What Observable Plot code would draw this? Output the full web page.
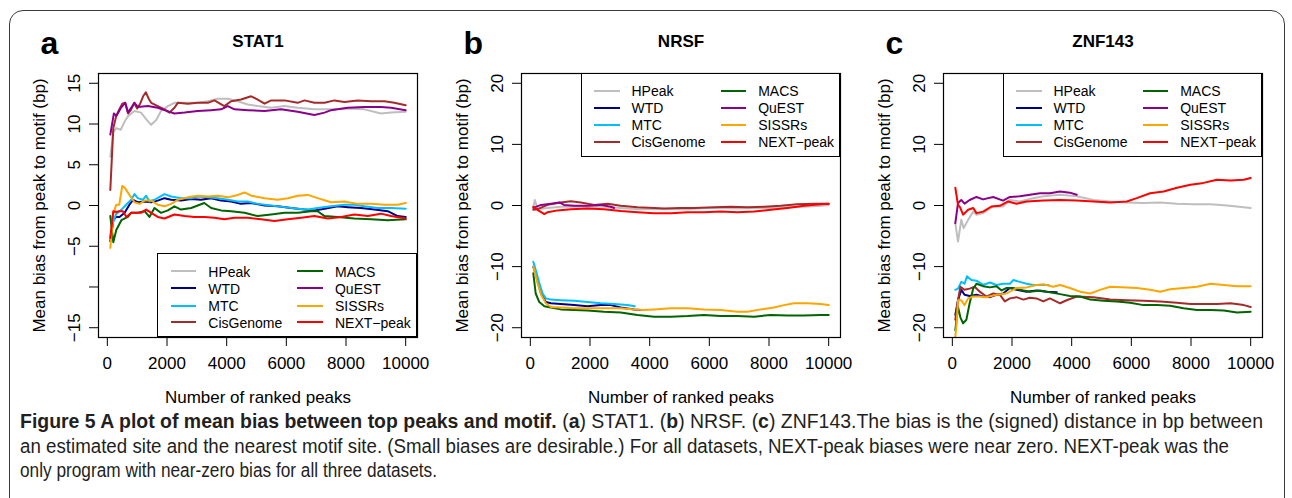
<!DOCTYPE html>
<html><head><meta charset="utf-8">
<script src="https://cdn.jsdelivr.net/npm/d3@7"></script>
<script src="https://cdn.jsdelivr.net/npm/@observablehq/plot@0.6"></script>
<style>
html,body{margin:0;padding:0;background:#fff;}
body{width:1292px;height:498px;overflow:hidden;position:relative;font-family:"Liberation Sans",Arial,Helvetica,sans-serif;}
#border{position:absolute;left:9px;top:10px;width:1276px;height:560px;border:1.5px solid #3a3a3a;border-radius:14px;box-sizing:border-box;}
.panel{position:absolute;top:0;}
.legend{position:absolute;background:#fff;border:1px solid #000;box-sizing:border-box;width:259.5px;height:83.5px;font-size:14px;color:#000;}
.legend .sw{position:absolute;height:2px;width:25.5px;}
.legend .lb{position:absolute;line-height:16px;white-space:nowrap;}
#caption{position:absolute;left:20px;top:409px;font-size:20px;line-height:24.5px;color:#231f20;}
#caption div{white-space:nowrap;transform-origin:0 50%;width:max-content;}
</style></head><body>
<div id="border"></div>
<div id="root"></div>
<div id="caption">
<div data-w="1243"><b>Figure 5 A plot of mean bias between top peaks and motif.</b> (<b>a</b>) STAT1. (<b>b</b>) NRSF. (<b>c</b>) ZNF143.The bias is the (signed) distance in bp between</div>
<div data-w="1209">an estimated site and the nearest motif site. (Small biases are desirable.) For all datasets, NEXT-peak biases were near zero. NEXT-peak was the</div>
<div data-w="417">only program with near-zero bias for all three datasets.</div>
</div>
<script>
// ---------- data ----------
const methods = ["HPeak","WTD","MTC","CisGenome","MACS","QuEST","SISSRs","NEXT-peak"];
const legendLabels = ["HPeak","WTD","MTC","CisGenome","MACS","QuEST","SISSRs","NEXT\u2212peak"];
const colors = ["#bebebe","#00008b","#00bfff","#a52a2a","#006400","#8b008b","#ffa500","#ff0000"];
const xTicks = [0,2000,4000,6000,8000,10000];
const yTicksA = [-15,-10,-5,0,5,10,15];
const yTicksBC = [-20,-10,0,10,20];
const panelTitles = ["STAT1","NRSF","ZNF143"];
const panelLetters = ["a","b","c"];
const xLabel = "Number of ranked peaks";
const yLabel = "Mean bias from peak to motif (bp)";

// STAT1 (panel a)
const STAT1_HPeak = [[100,6.0],[200,9.0],[300,9.5],[450,9.3],[580,10.3],[700,11.0],[910,11.6],[1130,11.4],[1300,10.6],[1470,9.9],[1640,10.5],[1800,11.6],[2030,12.2],[2250,12.6],[2700,12.6],[3030,12.6],[3370,12.8],[3700,13.1],[4040,13.1],[4370,12.8],[4710,12.4],[5040,12.2],[5490,12.0],[5940,12.2],[6380,12.0],[6940,11.8],[7500,11.8],[8060,11.9],[8620,11.8],[9170,11.3],[9510,11.4],[10000,11.5]];
const STAT1_WTD = [[100,-4.4],[200,-1.8],[300,-1.4],[410,-1.4],[580,-0.9],[740,0.1],[860,0.7],[1020,0.4],[1250,0.5],[1470,0.4],[1690,0.6],[1915,0.9],[2140,0.7],[2470,0.6],[2810,0.8],[3140,0.7],[3480,0.9],[3810,0.6],[4150,0.5],[4480,0.2],[4820,0.3],[5270,0.0],[5710,-0.1],[6160,-0.3],[6610,-0.5],[6940,-0.6],[7280,-0.4],[7720,-0.1],[8060,-0.2],[8500,-0.3],[8950,-0.5],[9400,-0.7],[9730,-1.3],[10000,-1.4]];
const STAT1_MTC = [[100,-3.8],[200,-2.0],[300,-1.0],[450,-0.6],[580,-0.1],[800,0.7],[910,1.4],[1020,0.9],[1190,0.7],[1300,1.2],[1410,0.5],[1580,0.7],[1915,1.4],[2140,1.1],[2470,0.9],[2810,0.9],[3030,1.1],[3370,1.0],[3700,0.9],[4040,0.7],[4370,0.5],[4710,0.5],[5040,0.2],[5490,0.0],[5940,-0.2],[6380,-0.4],[6720,-0.5],[7050,-0.3],[7500,-0.1],[7950,0.1],[8280,0.1],[8620,-0.1],[9060,-0.3],[9510,-0.3],[10000,-0.4]];
const STAT1_CisGenome = [[100,1.9],[200,9.5],[300,11.0],[400,11.8],[500,12.5],[600,12.6],[700,11.3],[800,11.8],[900,12.6],[1000,11.9],[1100,12.5],[1200,13.4],[1290,13.9],[1400,13.0],[1470,12.6],[1690,12.2],[1915,11.8],[2080,11.4],[2250,12.0],[2360,12.6],[2700,12.5],[3030,12.6],[3370,12.6],[3590,12.9],[3920,12.2],[4150,12.8],[4480,13.0],[4820,13.4],[5040,13.0],[5270,12.5],[5490,12.9],[5940,12.9],[6380,12.6],[6610,12.9],[6940,12.6],[7280,12.6],[7610,12.9],[7950,12.7],[8390,12.9],[8840,12.8],[9290,12.8],[9620,12.6],[10000,12.3]];
const STAT1_MACS = [[100,-1.3],[200,-4.5],[300,-3.0],[470,-1.8],[690,-1.4],[800,-0.9],[1020,-0.9],[1250,-0.7],[1410,-1.4],[1580,-0.3],[1800,-0.9],[2030,-0.6],[2250,-0.1],[2470,-0.5],[2810,-0.3],[3030,0.0],[3250,0.3],[3480,-0.3],[3810,-0.6],[4150,-0.7],[4600,-0.9],[5040,-1.3],[5490,-1.1],[5940,-0.9],[6380,-0.9],[6830,-0.7],[7050,-0.7],[7280,-1.3],[7720,-1.4],[8280,-1.6],[8840,-1.7],[9400,-1.8],[10000,-1.7]];
const STAT1_QuEST = [[100,8.7],[220,11.3],[300,11.0],[460,12.0],[600,12.6],[690,11.4],[800,12.0],[910,12.6],[1020,12.1],[1360,12.2],[1690,12.0],[1915,11.7],[2250,11.3],[2590,11.4],[3030,11.6],[3480,11.7],[3810,11.8],[4040,12.2],[4260,11.8],[4710,11.7],[5270,11.6],[5820,11.8],[6380,11.5],[6940,11.1],[7280,11.4],[7500,11.7],[8060,12.0],[8620,12.1],[9170,12.1],[9510,12.0],[10000,11.7]];
const STAT1_SISSRs = [[100,-5.2],[200,-1.0],[300,0.1],[400,0.1],[500,2.4],[580,2.2],[740,1.3],[910,0.4],[1080,0.2],[1250,0.6],[1470,0.6],[1690,0.1],[1915,-0.1],[2140,0.2],[2360,0.7],[2700,1.0],[3030,1.2],[3370,1.1],[3700,1.2],[4040,1.0],[4370,1.3],[4600,1.6],[4820,1.2],[5270,0.9],[5710,0.7],[6050,0.9],[6380,1.2],[6720,1.3],[7050,0.9],[7500,0.4],[7950,0.5],[8390,0.2],[8840,0.2],[9290,0.1],[9730,0.1],[10000,0.3]];
const STAT1_NEXTpeak = [[100,-4.0],[200,-0.7],[300,-0.8],[400,-0.7],[520,-0.7],[640,-1.4],[800,-0.9],[970,-0.9],[1130,-0.9],[1300,-0.5],[1470,-0.9],[1690,-1.4],[1915,-1.6],[2250,-1.1],[2590,-1.3],[2920,-1.4],[3250,-1.4],[3590,-1.5],[3920,-1.7],[4260,-1.5],[4710,-1.5],[5150,-1.7],[5600,-1.9],[6050,-1.7],[6500,-1.5],[6940,-1.3],[7390,-1.6],[7840,-1.4],[8280,-1.1],[8730,-1.3],[9170,-1.0],[9510,-1.3],[10000,-1.6]];

// NRSF (panel b)
const NRSF_HPeak = [[100,-0.3],[150,0.9],[250,-0.6],[580,-0.4],[1020,-0.2],[1470,-0.2],[1915,-0.2],[2470,-0.2],[3030,-0.4],[3590,-0.6],[4150,-0.6],[4710,-0.6],[5270,-0.6],[5820,-0.4],[6380,-0.4],[6940,-0.5],[7500,-0.4],[8060,-0.4],[8620,-0.3],[9170,-0.2],[9730,-0.05],[10000,0.1]];
const NRSF_WTD = [[100,-10.0],[240,-12.2],[360,-14.4],[520,-15.8],[690,-16.0],[1020,-16.1],[1470,-16.3],[1915,-16.5],[2360,-16.3],[2700,-16.3],[3030,-16.7],[3480,-17.0],[3700,-17.1]];
const NRSF_MTC = [[100,-9.2],[180,-10.5],[300,-12.7],[410,-14.4],[520,-15.2],[690,-15.4],[1020,-15.5],[1470,-15.6],[1915,-15.8],[2360,-16.0],[2810,-16.1],[3250,-16.3],[3500,-16.5]];
const NRSF_CisGenome = [[100,-0.7],[240,-0.6],[580,0.1],[1020,0.5],[1360,0.7],[1690,0.5],[2140,0.1],[2590,0.3],[3030,-0.05],[3590,-0.3],[4150,-0.4],[4480,-0.5],[5040,-0.4],[5490,-0.4],[6160,-0.3],[6720,-0.2],[7280,-0.3],[7840,-0.2],[8390,-0.05],[8950,0.2],[9510,0.3],[10000,0.3]];
const NRSF_MACS = [[100,-11.1],[180,-14.4],[300,-15.8],[470,-16.5],[690,-16.7],[1020,-17.0],[1470,-17.1],[1915,-17.2],[2470,-17.4],[3030,-17.5],[3590,-17.9],[4150,-18.2],[4710,-18.2],[5270,-18.1],[5820,-17.9],[6380,-18.1],[6940,-18.1],[7500,-18.2],[8060,-17.9],[8620,-18.0],[9170,-18.0],[9730,-17.9],[10000,-17.9]];
const NRSF_QuEST = [[100,-0.4],[360,0.1],[690,0.3],[970,0.5],[1130,0.1],[1470,-0.05],[1915,-0.05],[2360,0.1],[2700,-0.2],[2810,-0.4]];
const NRSF_SISSRs = [[100,-10.0],[240,-12.7],[360,-14.6],[520,-16.0],[690,-16.6],[1020,-16.7],[1470,-16.8],[1915,-16.8],[2470,-16.8],[3030,-16.8],[3480,-17.0],[3810,-17.1],[4150,-17.0],[4710,-16.8],[5270,-16.8],[5820,-17.0],[6380,-17.1],[6940,-17.4],[7280,-17.4],[7720,-17.0],[8170,-16.7],[8500,-16.3],[8840,-16.0],[9290,-16.0],[9730,-16.1],[10000,-16.3]];
const NRSF_NEXTpeak = [[100,-0.2],[240,-0.7],[470,-1.4],[580,-1.1],[910,-0.8],[1360,-0.6],[1915,-0.5],[2470,-0.6],[3030,-0.9],[3590,-1.1],[4150,-1.25],[4710,-1.25],[5270,-1.1],[5820,-1.1],[6380,-1.0],[6940,-1.1],[7500,-1.0],[8060,-0.7],[8620,-0.4],[9170,-0.05],[9730,0.2],[10000,0.3]];

// ZNF143 (panel c)
const ZNF143_HPeak = [[100,-2.9],[190,-5.9],[300,-2.35],[380,-3.7],[530,-2.35],[700,-1.0],[810,-1.5],[1030,-1.25],[1370,-0.16],[1700,-0.16],[1930,0.9],[2260,0.66],[2710,1.2],[3050,1.5],[3610,1.75],[4170,1.5],[4730,0.9],[5290,0.66],[5850,0.5],[6410,0.4],[6970,0.5],[7530,0.3],[8090,0.2],[8650,0.2],[9210,0.0],[9770,-0.3],[10000,-0.4]];
const ZNF143_WTD = [[100,-17.9],[190,-15.5],[300,-13.8],[410,-14.6],[580,-14.8],[810,-14.6],[1030,-14.9],[1260,-15.0],[1480,-14.6],[1700,-14.4],[1930,-13.5],[2150,-13.8],[2490,-14.1],[2820,-13.9],[3160,-14.1],[3500,-14.2]];
const ZNF143_MTC = [[100,-13.8],[190,-13.6],[300,-12.5],[410,-12.8],[490,-11.6],[640,-12.2],[810,-12.3],[1030,-13.0],[1260,-12.6],[1480,-13.0],[1700,-12.8],[1930,-12.8],[2040,-12.2],[2260,-12.5],[2490,-12.8],[2710,-13.0],[3050,-13.0],[3220,-13.0]];
const ZNF143_CisGenome = [[100,-18.7],[190,-15.5],[270,-13.3],[410,-13.8],[580,-13.6],[750,-13.3],[920,-14.1],[1140,-14.9],[1370,-14.4],[1590,-14.6],[1760,-15.7],[1930,-15.2],[2150,-15.0],[2380,-15.4],[2600,-15.1],[2820,-15.2],[3050,-15.7],[3270,-15.2],[3610,-16.0],[3830,-15.5],[4170,-14.9],[4730,-15.0],[5290,-15.4],[5850,-15.5],[6410,-15.6],[6970,-15.7],[7530,-15.9],[7980,-16.1],[8420,-16.1],[8870,-16.1],[9320,-16.0],[9770,-16.3],[10000,-16.6]];
const ZNF143_MACS = [[100,-20.4],[190,-16.6],[270,-18.3],[360,-19.3],[470,-18.7],[580,-16.0],[700,-13.6],[810,-12.8],[1030,-13.2],[1260,-13.4],[1480,-13.2],[1650,-13.9],[1820,-13.5],[2040,-13.5],[2260,-13.8],[2600,-14.1],[2940,-13.9],[3270,-14.2],[3610,-14.5],[3940,-14.8],[4280,-14.9],[4620,-15.4],[5060,-15.6],[5510,-15.7],[5960,-15.9],[6410,-16.3],[6860,-16.3],[7300,-16.4],[7750,-16.8],[8200,-17.1],[8650,-17.1],[9100,-17.2],[9540,-17.5],[10000,-17.4]];
const ZNF143_QuEST = [[100,-2.9],[190,0.4],[300,0.9],[410,0.3],[580,0.9],[810,1.4],[1030,1.0],[1370,1.4],[1700,0.8],[1930,1.4],[2260,1.5],[2600,1.75],[2940,2.0],[3270,2.0],[3610,2.3],[3940,2.1],[4170,1.75]];
const ZNF143_SISSRs = [[100,-21.5],[150,-19.0],[190,-15.5],[300,-15.5],[410,-16.3],[530,-15.2],[700,-14.9],[920,-14.9],[1140,-15.0],[1480,-14.6],[1820,-14.4],[2150,-13.5],[2490,-13.4],[2820,-13.0],[3050,-12.9],[3380,-13.3],[3610,-13.0],[3940,-13.5],[4280,-14.1],[4620,-14.4],[4950,-13.8],[5290,-13.3],[5850,-13.4],[6180,-13.5],[6630,-13.8],[6970,-14.1],[7300,-13.7],[7750,-13.5],[8200,-13.3],[8650,-12.8],[9100,-13.0],[9540,-13.2],[10000,-13.2]];
const ZNF143_NEXTpeak = [[100,2.9],[190,0.1],[260,-0.3],[360,-1.5],[530,-0.7],[700,-0.4],[810,-1.25],[1030,-1.0],[1310,-0.16],[1590,-0.05],[1870,0.66],[2150,0.3],[2490,0.66],[3050,0.8],[3610,0.9],[4170,0.8],[4730,0.66],[5290,0.5],[5850,0.66],[6180,1.2],[6630,2.0],[7080,2.3],[7530,2.9],[7980,3.4],[8420,3.7],[8870,4.2],[9320,4.1],[9770,4.2],[10000,4.5]];

const seriesA = [STAT1_HPeak,STAT1_WTD,STAT1_MTC,STAT1_CisGenome,STAT1_MACS,STAT1_QuEST,STAT1_SISSRs,STAT1_NEXTpeak];
const seriesB = [NRSF_HPeak,NRSF_WTD,NRSF_MTC,NRSF_CisGenome,NRSF_MACS,NRSF_QuEST,NRSF_SISSRs,NRSF_NEXTpeak];
const seriesC = [ZNF143_HPeak,ZNF143_WTD,ZNF143_MTC,ZNF143_CisGenome,ZNF143_MACS,ZNF143_QuEST,ZNF143_SISSRs,ZNF143_NEXTpeak];

// ---------- drawing ----------
const FONT = '"Liberation Sans", Arial, Helvetica, sans-serif';
const minus = d => d < 0 ? "\u2212" + Math.abs(d) : String(d);

function toRows(series) {
  const rows = [];
  series.forEach((s, i) => s.forEach(([x, y]) => rows.push({method: methods[i], x, y})));
  return rows;
}

function makePanel(k, series, yDomain, yTicks, yFmt, cfg) {
  const svg = Plot.plot({
    width: cfg.width, height: 420,
    marginTop: 73, marginBottom: 83, marginLeft: cfg.ml, marginRight: cfg.mr,
    style: {fontFamily: FONT, fontSize: "17px", color: "#000", background: "transparent", overflow: "visible"},
    x: {domain: [-296, 10396]},
    y: {domain: yDomain},
    color: {domain: methods, range: colors},
    marks: [
      Plot.axisX(xTicks, {tickSize: 9, tickPadding: 10, label: null, tickFormat: d => String(d), fontSize: 17, stroke: "#000"}),
      Plot.axisY(yTicks, {tickSize: 9, tickPadding: 10, tickRotate: -90, label: null, tickFormat: yFmt, fontSize: 17, stroke: "#000"}),
      Plot.line(toRows(series), {x: "x", y: "y", z: "method", stroke: "method", strokeWidth: 2, strokeLinejoin: "round"}),
      Plot.frame({stroke: "#000", strokeWidth: 1.2}),
      Plot.text([panelTitles[k]], {frameAnchor: "top", dy: -31.5, lineAnchor: "middle", fontWeight: "bold", fontSize: 17, fill: "#000"}),
      Plot.text([panelLetters[k]], {frameAnchor: "top-left", dx: -58, dy: -20, textAnchor: "start", lineAnchor: "bottom", fontWeight: "bold", fontSize: 32, fill: "#000"}),
      Plot.text([xLabel], {frameAnchor: "bottom", dy: 60, lineAnchor: "middle", fontSize: 17, fill: "#000"}),
      Plot.text([yLabel], {frameAnchor: "left", dx: -59, rotate: -90, textAnchor: "middle", lineAnchor: "middle", fontSize: 17, fill: "#000"})
    ]
  });
  const wrap = document.createElement("div");
  wrap.className = "panel";
  wrap.style.left = cfg.left + "px";
  wrap.appendChild(svg);
  document.getElementById("root").appendChild(wrap);

  // legend (key) inside the plot box
  const lg = document.createElement("div");
  lg.className = "legend";
  lg.style.left = cfg.lgLeft + "px";
  lg.style.top = cfg.lgTop + "px";
  const rowY = [17, 34.1, 51.2, 68];
  methods.forEach((m, i) => {
    const col = i < 4 ? 0 : 1, r = i % 4;
    const sw = document.createElement("div");
    sw.className = "sw";
    sw.style.left = (col ? 139 : 12.5) + "px";
    sw.style.top = (rowY[r] - 1) + "px";
    sw.style.background = colors[i];
    lg.appendChild(sw);
    const lb = document.createElement("span");
    lb.className = "lb";
    lb.style.left = (col ? 176.7 : 50) + "px";
    lb.style.top = (rowY[r] - 7.8) + "px";
    lb.textContent = legendLabels[i];
    lg.appendChild(lb);
  });
  document.getElementById("root").appendChild(lg);
}

const fmtA = d => d === -10 ? "" : minus(d);
makePanel(0, seriesA, [-16.2, 16.2], yTicksA, fmtA, {left: 0, width: 430, ml: 98, mr: 13, lgLeft: 157.3, lgTop: 253.4});
makePanel(1, seriesB, [-21.6, 21.6], yTicksBC, minus, {left: 430, width: 430, ml: 91, mr: 20, lgLeft: 580.5, lgTop: 73});
makePanel(2, seriesC, [-21.6, 21.6], yTicksBC, minus, {left: 860, width: 432, ml: 83, mr: 30, lgLeft: 1002.5, lgTop: 73});

// caption lines condensed to the widths of the original
document.querySelectorAll("#caption div").forEach(el => {
  const w = el.getBoundingClientRect().width;
  const target = +el.dataset.w;
  el.style.transform = `scaleX(${target / w})`;
});
</script>
</body></html>
